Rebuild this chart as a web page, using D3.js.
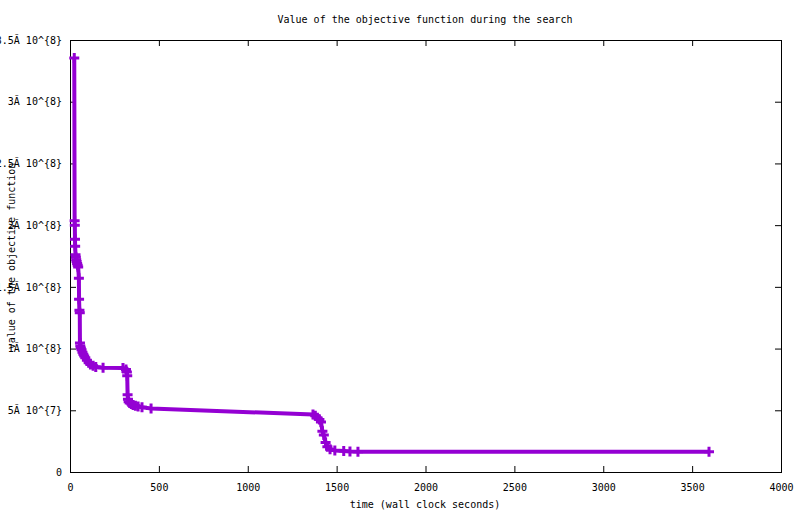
<!DOCTYPE html>
<html>
<head>
<meta charset="utf-8">
<script src="https://cdn.jsdelivr.net/npm/d3@7"></script>
<style>
html,body{margin:0;padding:0;background:#fff;}
svg{display:block;}
text{font-family:"DejaVu Sans Mono","Liberation Mono",monospace;font-size:10px;fill:#000;}
</style>
</head>
<body>
<svg id="chart" width="800" height="514"></svg>
<script>
// time in wall clock seconds
const times = [24,26,27,28,29,31,33,35,37,40,43,46,50,51,53,55,56,58,61,65,70,75,80,86,95,105,115,130,145,186,298,315,320,322,324,326,330,336,345,355,368,383,405,456,1367,1380,1392,1403,1412,1420,1428,1438,1448,1463,1490,1540,1575,1620,3595];
// objective value, in millions
const values = [335.5,203.5,200,188.5,183,176,174,172,170.5,169,167.5,166,157,140,131,129,104.5,102,100.5,99,97,95.5,94,92.5,90.5,88.5,87,86,85,84.5,84.3,83,81,78,62.5,59,57,56,55,54.3,53.6,53,52.4,51.5,46.5,45.5,44,42.5,40.5,33,30,24,20.5,18.5,17.5,17,16.6,16.4,16.4];
const xTicks = [0,500,1000,1500,2000,2500,3000,3500,4000];
const yTicks = [0,5e7,1e8,1.5e8,2e8,2.5e8,3e8,3.5e8];
const yTickLabels = ["0","5Ă 10^{7}","1Ă 10^{8}","1.5Ă 10^{8}","2Ă 10^{8}","2.5Ă 10^{8}","3Ă 10^{8}","3.5Ă 10^{8}"];
const title = "Value of the objective function during the search";
const xTitle = "time (wall clock seconds)";
const yTitle = "value of the objective function";

const data = times.map((t,i)=>({t:t, v:values[i]*1e6}));

const svg = d3.select("#chart");
const L=70, R=781, T=40, B=472;
const x = d3.scaleLinear().domain([0,4000]).range([L,R]);
const y = d3.scaleLinear().domain([0,3.5e8]).range([B,T]);

// axes with inward ticks
const xAxis = d3.axisBottom(x).tickValues(xTicks).tickSize(-6).tickPadding(12).tickFormat(d3.format("d"));
const yAxis = d3.axisLeft(y).tickValues(yTicks).tickSize(-6).tickPadding(8).tickFormat((d,i)=>yTickLabels[i]);
const xAxisTop = d3.axisTop(x).tickValues(xTicks).tickSize(-6).tickFormat("");
const yAxisRight = d3.axisRight(y).tickValues(yTicks).tickSize(-6).tickFormat("");

function style(g){
  g.select(".domain").remove();
  g.selectAll("line").attr("stroke","#000").attr("stroke-width",1);
  g.selectAll("text").attr("font-family","DejaVu Sans Mono, monospace").attr("font-size",10).attr("fill","#000");
}
svg.append("g").attr("transform",`translate(0,${B})`).call(xAxis).call(style);
svg.append("g").attr("transform",`translate(${L},0)`).call(yAxis).call(style);
svg.append("g").attr("transform",`translate(0,${T})`).call(xAxisTop).call(style);
svg.append("g").attr("transform",`translate(${R},0)`).call(yAxisRight).call(style);

// border
svg.append("rect").attr("x",L).attr("y",T).attr("width",R-L).attr("height",B-T)
  .attr("fill","none").attr("stroke","#000").attr("stroke-width",1).attr("shape-rendering","crispEdges");

// line
const line = d3.line().x(d=>x(d.t)).y(d=>y(d.v));
svg.append("path").datum(data).attr("d",line).attr("fill","none")
  .attr("stroke","#9400d3").attr("stroke-width",4).attr("stroke-linejoin","miter");

// markers
svg.append("g").selectAll("path").data(data).join("path")
  .attr("transform",d=>`translate(${x(d.t)},${y(d.v)})`)
  .attr("d","M-5,0H5M0,-5V5")
  .attr("stroke","#9400d3").attr("stroke-width",3).attr("fill","none");

// titles
svg.append("text").attr("x",425).attr("y",23).attr("text-anchor","middle").text(title);
svg.append("text").attr("x",425).attr("y",508).attr("text-anchor","middle").text(xTitle);
svg.append("text").attr("transform",`translate(15,256) rotate(-90)`).attr("text-anchor","middle").text(yTitle);
</script>
</body>
</html>
